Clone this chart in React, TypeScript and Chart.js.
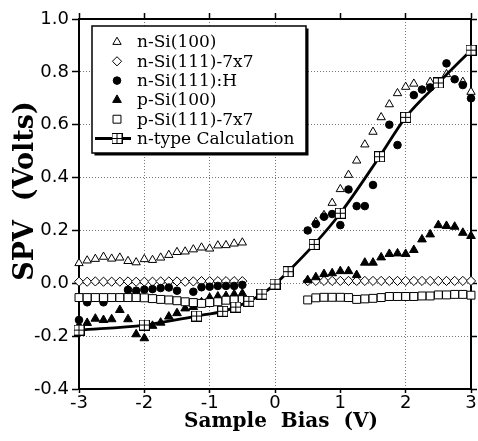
import React, { useEffect, useRef } from 'react';
import { Chart, registerables } from 'chart.js';
import { drawPoint } from 'chart.js/helpers';

Chart.register(...registerables);

// Sample bias values (V)
const biasNeg = [-3, -2.875, -2.75, -2.625, -2.5, -2.375, -2.25, -2.125, -2, -1.875, -1.75, -1.625, -1.5, -1.375, -1.25, -1.125, -1, -0.875, -0.75, -0.625, -0.5];
const biasPos = [0.5, 0.625, 0.75, 0.875, 1, 1.125, 1.25, 1.375, 1.5, 1.625, 1.75, 1.875, 2, 2.125, 2.25, 2.375, 2.5, 2.625, 2.75, 2.875, 3];

// SPV (Volts)
const nSi100Neg = [0.076, 0.086, 0.092, 0.1, 0.093, 0.097, 0.084, 0.079, 0.091, 0.088, 0.097, 0.107, 0.118, 0.12, 0.128, 0.135, 0.131, 0.143, 0.144, 0.15, 0.154];
const nSi100Pos = [null, 0.232, 0.258, 0.304, 0.356, 0.41, 0.464, 0.525, 0.573, 0.628, 0.677, 0.719, 0.743, 0.755, null, 0.762, null, 0.791, null, 0.762, 0.724];

const nSi7x7Neg = [0.006, 0.006, 0.007, 0.006, 0.006, 0.006, 0.007, 0.006, 0.006, 0.006, 0.007, 0.007, 0.007, 0.006, 0.007, 0.008, 0.008, 0.008, 0.008, 0.008, 0.008];
const nSi7x7Pos = [0.008, 0.009, 0.009, 0.009, 0.009, 0.009, 0.009, 0.009, 0.009, 0.009, 0.009, 0.009, 0.009, 0.009, 0.009, 0.009, 0.009, 0.009, 0.009, 0.009, 0.009];

const nSiHNeg = [-0.139, -0.072, null, -0.072, null, null, -0.025, -0.028, -0.024, -0.022, -0.018, -0.016, -0.028, null, -0.032, -0.015, -0.013, -0.01, -0.01, -0.01, -0.006];
const nSiHPos = [0.2, 0.224, 0.252, 0.262, 0.22, 0.355, 0.292, 0.292, 0.372, null, 0.6, 0.523, null, 0.712, 0.733, 0.741, null, 0.832, 0.772, 0.75, 0.7];

const pSi100Neg = [-0.16, -0.15, -0.134, -0.139, -0.136, -0.101, -0.136, -0.193, -0.208, -0.161, -0.149, -0.126, -0.113, -0.095, -0.09, -0.072, -0.055, -0.05, -0.048, -0.042, -0.039];
const pSi100Pos = [0.012, 0.023, 0.035, 0.038, 0.046, 0.046, 0.031, 0.078, 0.078, 0.098, 0.111, 0.113, 0.111, 0.126, 0.166, 0.185, 0.22, 0.217, 0.214, 0.191, 0.179];

const pSi7x7Neg = [-0.054, -0.054, -0.054, -0.054, -0.054, -0.054, -0.054, -0.054, -0.055, -0.058, -0.061, -0.063, -0.066, -0.07, -0.073, -0.076, -0.073, -0.07, -0.064, -0.063, -0.062];
const pSi7x7Pos = [-0.063, -0.055, -0.053, -0.053, -0.053, -0.054, -0.061, -0.059, -0.057, -0.054, -0.05, -0.05, -0.05, -0.05, -0.048, -0.048, -0.044, -0.044, -0.042, -0.042, -0.045];

const calcBias = [-3, -2, -1.2, -0.8, -0.6, -0.4, -0.2, 0, 0.2, 0.6, 1.0, 1.6, 2.0, 2.5, 3.0];
const calcSpv = [-0.177, -0.158, -0.124, -0.106, -0.09, -0.068, -0.041, -0.003, 0.044, 0.147, 0.265, 0.479, 0.628, 0.758, 0.882];

const xTicksMin = -3;
const xTicksMax = 3;
const yTicksMin = -0.4;
const yTicksMax = 1.0;

const legendLabels = ['n-Si(100)', 'n-Si(111)-7x7', 'n-Si(111):H', 'p-Si(100)', 'p-Si(111)-7x7', 'n-type Calculation'];
const xTitle = 'Sample  Bias  (V)';
const yTitle = 'SPV  (Volts)';

function pts(xs: number[], ys: (number | null)[]) {
  const out: { x: number; y: number }[] = [];
  xs.forEach((x, i) => {
    const y = ys[i];
    if (y !== null && y !== undefined) out.push({ x, y });
  });
  return out;
}

function makeCrossSquare(size: number) {
  const c = document.createElement('canvas');
  c.width = size;
  c.height = size;
  const g = c.getContext('2d')!;
  g.fillStyle = '#fff';
  g.fillRect(0.5, 0.5, size - 1, size - 1);
  g.strokeStyle = '#000';
  g.lineWidth = 1;
  g.strokeRect(0.5, 0.5, size - 1, size - 1);
  const m = Math.floor(size / 2) + 0.5;
  g.beginPath();
  g.moveTo(m, 0.5);
  g.lineTo(m, size - 0.5);
  g.moveTo(0.5, m);
  g.lineTo(size - 0.5, m);
  g.stroke();
  return c;
}

const gridColor = (ctx: any) => {
  const v = ctx.tick ? ctx.tick.value : null;
  if (v === null) return '#777';
  if (Math.abs(v - xTicksMin) < 1e-9 || Math.abs(v - xTicksMax) < 1e-9 || Math.abs(v - yTicksMin) < 1e-9 || Math.abs(v - yTicksMax) < 1e-9) return 'rgba(0,0,0,0)';
  return '#777';
};

const overlayPlugin = {
  id: 'overlay',
  afterDraw(chart: any) {
    const ctx = chart.ctx as CanvasRenderingContext2D;
    ctx.save();
    // legend box with shadow
    const bx = 92, by = 26, bw = 214, bh = 127;
    ctx.fillStyle = '#000';
    ctx.fillRect(bx + 2.5, by + 2.5, bw, bh);
    ctx.fillStyle = '#fff';
    ctx.fillRect(bx, by, bw, bh);
    ctx.strokeStyle = '#000';
    ctx.lineWidth = 1.5;
    ctx.strokeRect(bx, by, bw, bh);

    const rowY0 = 42;
    const rowStep = 19.3;
    const markX = 117;
    chart.data.datasets.forEach((ds: any, i: number) => {
      const y = rowY0 + i * rowStep;
      if (ds.showLine) {
        ctx.strokeStyle = ds.borderColor;
        ctx.lineWidth = ds.borderWidth;
        ctx.beginPath();
        ctx.moveTo(95, y);
        ctx.lineTo(131, y);
        ctx.stroke();
      }
      ctx.fillStyle = ds.pointBackgroundColor;
      ctx.strokeStyle = ds.pointBorderColor;
      ctx.lineWidth = ds.pointBorderWidth;
      drawPoint(ctx, { pointStyle: ds.pointStyle, radius: ds.pointRadius, rotation: 0, borderWidth: ds.pointBorderWidth } as any, markX, y);
      ctx.fillStyle = '#000';
      ctx.font = '17px "DejaVu Serif"';
      ctx.textAlign = 'left';
      ctx.textBaseline = 'middle';
      ctx.fillText(legendLabels[i], 137, y + 1);
    });

    // axis titles
    ctx.fillStyle = '#000';
    ctx.font = 'bold 20px "DejaVu Serif"';
    ctx.textAlign = 'center';
    ctx.textBaseline = 'alphabetic';
    ctx.fillText(xTitle, 281, 427);

    ctx.save();
    ctx.translate(33, 191);
    ctx.rotate(-Math.PI / 2);
    ctx.font = 'bold 27px "DejaVu Serif"';
    ctx.textAlign = 'center';
    ctx.textBaseline = 'alphabetic';
    ctx.fillText(yTitle, 0, 0);
    ctx.restore();
    ctx.restore();
  },
};

export default function App() {
  const ref = useRef<HTMLCanvasElement>(null);
  useEffect(() => {
    const crossSq = makeCrossSquare(11);
    const tickFont = { family: 'DejaVu Sans', size: 18 };
    const chart = new Chart(ref.current!, {
      type: 'scatter',
      data: {
        datasets: [
          {
            label: legendLabels[0],
            data: [...pts(biasNeg, nSi100Neg), ...pts(biasPos, nSi100Pos)],
            pointStyle: 'triangle', pointRadius: 4.8, pointBackgroundColor: '#fff', pointBorderColor: '#000', pointBorderWidth: 1,
            backgroundColor: '#fff', borderColor: '#000', order: 4, clip: false,
          },
          {
            label: legendLabels[1],
            data: [...pts(biasNeg, nSi7x7Neg), ...pts(biasPos, nSi7x7Pos)],
            pointStyle: 'rectRot', pointRadius: 4.6, pointBackgroundColor: '#fff', pointBorderColor: '#000', pointBorderWidth: 1,
            backgroundColor: '#fff', borderColor: '#000', order: 5, clip: false,
          },
          {
            label: legendLabels[2],
            data: [...pts(biasNeg, nSiHNeg), ...pts(biasPos, nSiHPos)],
            pointStyle: 'circle', pointRadius: 3.8, pointBackgroundColor: '#000', pointBorderColor: '#000', pointBorderWidth: 1,
            backgroundColor: '#000', borderColor: '#000', order: 2, clip: false,
          },
          {
            label: legendLabels[3],
            data: [...pts(biasNeg, pSi100Neg), ...pts(biasPos, pSi100Pos)],
            pointStyle: 'triangle', pointRadius: 5, pointBackgroundColor: '#000', pointBorderColor: '#000', pointBorderWidth: 1,
            backgroundColor: '#000', borderColor: '#000', order: 3, clip: false,
          },
          {
            label: legendLabels[4],
            data: [...pts(biasNeg, pSi7x7Neg), ...pts(biasPos, pSi7x7Pos)],
            pointStyle: 'rect', pointRadius: 5.6, pointBackgroundColor: '#fff', pointBorderColor: '#000', pointBorderWidth: 1,
            backgroundColor: '#fff', borderColor: '#000', order: 1, clip: false,
          },
          {
            label: legendLabels[5],
            data: pts(calcBias, calcSpv),
            showLine: true, borderColor: '#000', borderWidth: 2.8, cubicInterpolationMode: 'monotone',
            pointStyle: crossSq as any, pointRadius: 5, pointBackgroundColor: '#fff', pointBorderColor: '#000', pointBorderWidth: 1,
            backgroundColor: '#fff', order: 0, clip: false,
          } as any,
        ],
      },
      options: {
        animation: false,
        responsive: false,
        devicePixelRatio: 1,
        layout: { padding: 0 },
        plugins: { legend: { display: false }, tooltip: { enabled: false } },
        scales: {
          x: {
            type: 'linear', position: 'bottom', min: xTicksMin, max: xTicksMax,
            ticks: { stepSize: 1, font: tickFont, color: '#000', padding: 0, maxRotation: 0, autoSkip: false, callback: (v: any) => String(v) },
            grid: { color: gridColor, lineWidth: 1, tickLength: 4, tickColor: '#000', tickWidth: 1.5 },
            border: { dash: [1, 2], color: '#000', width: 2 },
            afterFit: (s: any) => { s.height = 52; },
          },
          x2: {
            type: 'linear', position: 'top', min: xTicksMin, max: xTicksMax,
            ticks: { stepSize: 1, display: false },
            grid: { drawOnChartArea: false, tickLength: 6, tickColor: '#000', tickWidth: 1.5 },
            border: { color: '#000', width: 2 },
            afterFit: (s: any) => { s.height = 19; },
          },
          y: {
            type: 'linear', position: 'left', min: yTicksMin, max: yTicksMax,
            ticks: { stepSize: 0.2, font: tickFont, color: '#000', padding: 3, autoSkip: false, callback: (v: any) => (Math.abs(v) < 1e-9 ? 0 : Number(v)).toFixed(1) },
            grid: { color: gridColor, lineWidth: 1, tickLength: 7, tickColor: '#000', tickWidth: 1.5 },
            border: { dash: [1, 2], color: '#000', width: 2 },
            afterFit: (s: any) => { s.width = 79; },
          },
          y2: {
            type: 'linear', position: 'right', min: yTicksMin, max: yTicksMax,
            ticks: { stepSize: 0.2, display: false },
            grid: { drawOnChartArea: false, tickLength: 6, tickColor: '#000', tickWidth: 1.5 },
            border: { color: '#000', width: 2 },
            afterFit: (s: any) => { s.width = 7; },
          },
        },
      } as any,
      plugins: [overlayPlugin],
    });
    return () => chart.destroy();
  }, []);
  return (
    <div style={{ position: 'absolute', left: 0, top: 0, width: 478, height: 441, background: '#fff' }}>
      <canvas ref={ref} width={478} height={441} style={{ display: 'block', width: 478, height: 441 }} />
    </div>
  );
}
